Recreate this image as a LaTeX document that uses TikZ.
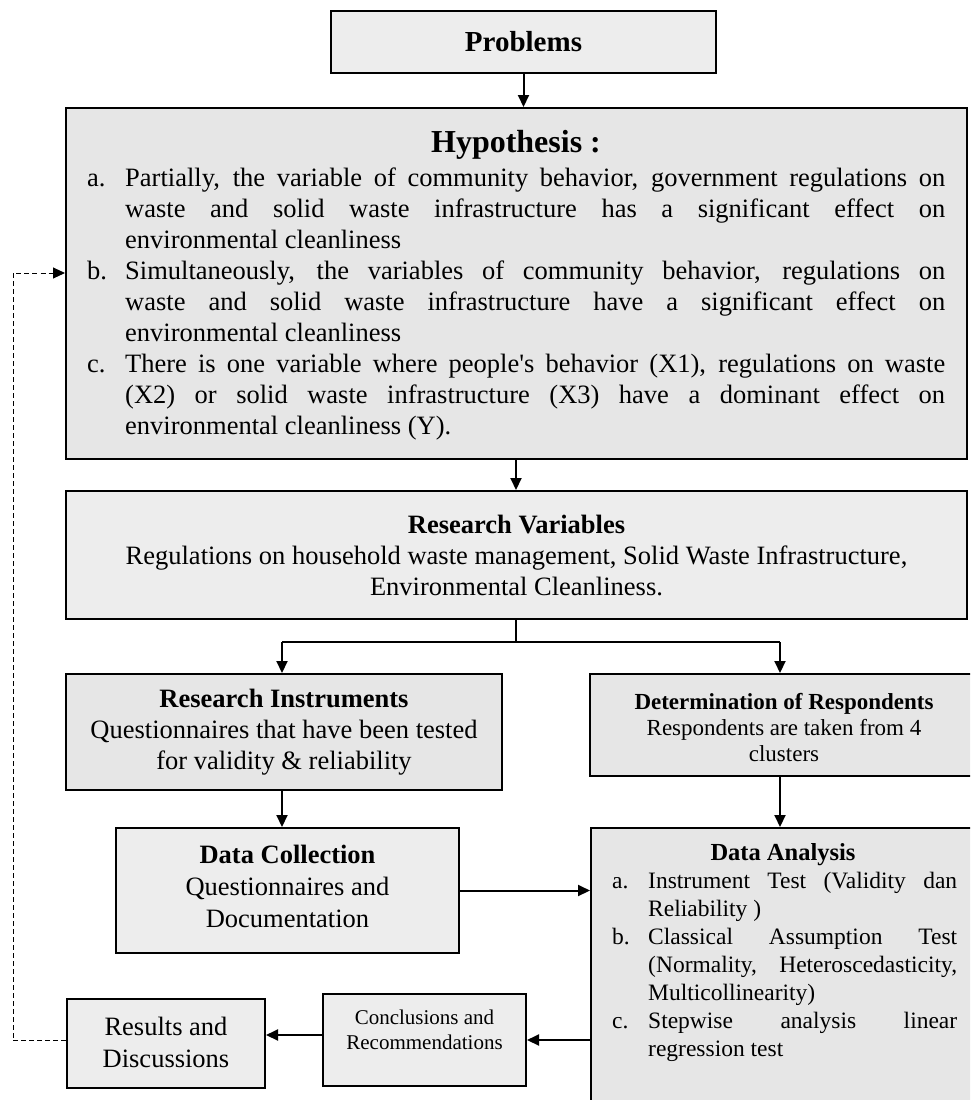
\documentclass[tikz,border=0pt]{standalone}
\usepackage{fontspec}
\setmainfont{Liberation Serif}
\usetikzlibrary{arrows.meta}
\definecolor{gA}{HTML}{EDEDED}
\definecolor{gB}{HTML}{E6E6E6}
\newcommand{\hitem}[3]{\hangindent=#1\hangafter=1\noindent\makebox[#1][l]{#2}#3\par}
\begin{document}
\begin{tikzpicture}[x=1pt,y=-1pt,
  box/.style={draw=black,line width=2pt,inner sep=0pt,anchor=north west},
  arr/.style={line width=2pt,-{Triangle[length=12pt,width=11pt]}},
  thinln/.style={line width=1.2pt},
  dasharr/.style={line width=1pt,dash pattern=on 5pt off 3pt,-{Triangle[length=12pt,width=11pt]}},
  body/.style={font=\fontsize{26.5}{31}\selectfont},
]
\useasboundingbox (0,0) rectangle (970,1100);
\fill[white] (0,0) rectangle (970,1100);
\clip (0,0) rectangle (970,1100);
\coordinate (axis) at (516,0);

% Problems
\node[box,fill=gA,minimum width=385pt,minimum height=62pt] (prob) at (330,10) {\fontsize{29}{32}\selectfont\bfseries Problems};

% Hypothesis
\node[box,fill=gB,line width=2.4pt,minimum width=901pt,minimum height=351pt] (hyp) at (65,107) {};
\node[font=\fontsize{32}{36}\selectfont\bfseries] (hyptitle) at (516,145) {Hypothesis :};
\node[anchor=north west,text width=858pt,inner sep=0pt,align=justify,body] (hyplist) at (87,168) {%
\hyphenpenalty=10000\exhyphenpenalty=10000
\hitem{38pt}{a.}{Partially, the variable of community behavior, government regulations on\linebreak waste and solid waste infrastructure has a significant effect on\linebreak environmental cleanliness}%
\hitem{38pt}{b.}{Simultaneously, the variables of community behavior, regulations on\linebreak waste and solid waste infrastructure have a significant effect on\linebreak environmental cleanliness}%
\hitem{38pt}{c.}{There is one variable where people\textquotesingle s behavior (X1), regulations on waste\linebreak (X2) or solid waste infrastructure (X3) have a dominant effect on\linebreak environmental cleanliness (Y).}};

% Research variables
\node[box,fill=gA,minimum width=901pt,minimum height=128pt] (rv) at (65,490) {};
\node[body,align=center] (rvtext) at (rv.center) {{\bfseries Research Variables}\\Regulations on household waste management, Solid Waste Infrastructure,\\Environmental Cleanliness.};

% Research instruments
\node[box,fill=gB,minimum width=436pt,minimum height=116pt] (ri) at (65,673) {};
\node[body,align=center] (ritext) at (ri.center) {{\bfseries Research Instruments}\\Questionnaires that have been tested\\for validity \& reliability};

% Determination of respondents (runs past the right edge)
\node[box,fill=gB,minimum width=388pt,minimum height=102pt] (dr) at (589,673) {};
\node[font=\fontsize{23}{26}\selectfont,align=center] (drtext) at ([yshift=-3pt]dr.center) {{\bfseries Determination of Respondents}\\Respondents are taken from 4\\clusters};

% Data collection
\node[box,fill=gA,minimum width=343pt,minimum height=125pt] (dc) at (115,827) {};
\node[font=\fontsize{26.5}{32}\selectfont,align=center] (dctext) at ([yshift=4pt]dc.center) {{\bfseries Data Collection}\\Questionnaires and\\Documentation};

% Data analysis (runs past the right and bottom edges)
\node[box,fill=gB,minimum width=388pt,minimum height=320pt] (da) at (590,827) {};
\node[font=\fontsize{24.5}{28}\selectfont\bfseries] (datitle) at (783,855) {Data Analysis};
\node[anchor=north west,text width=345pt,inner sep=0pt,align=justify,font=\fontsize{23.5}{28}\selectfont] (dalist) at (612,872) {%
\hyphenpenalty=10000\exhyphenpenalty=10000
\hitem{36pt}{a.}{Instrument Test (Validity dan\linebreak Reliability )}%
\hitem{36pt}{b.}{Classical Assumption Test\linebreak (Normality, Heteroscedasticity,\linebreak Multicollinearity)}%
\hitem{36pt}{c.}{Stepwise analysis linear\linebreak regression test}};

% Conclusions
\node[box,fill=gA,minimum width=203pt,minimum height=92pt] (conc) at (322,993) {};
\node[anchor=north,align=center,font=\fontsize{21}{25}\selectfont,inner sep=0pt] (conctext) at ([yshift=-17pt]conc.north) {Conclusions and\\Recommendations};

% Results
\node[box,fill=gA,minimum width=198pt,minimum height=89pt] (res) at (66,998) {};
\node[align=center,font=\fontsize{26.5}{32}\selectfont] (restext) at ([yshift=1pt]res.center) {Results and\\Discussions};

% Connectors
\draw[arr] (prob.south) -- (prob.south |- hyp.north);
\draw[arr] (hyp.south -| axis) -- (rv.north -| axis);
\coordinate (jm) at (516,642);
\coordinate (jl) at (282,642);
\coordinate (jr) at (780,642);
\draw[thinln] (rv.south -| axis) -- (jm);
\draw[thinln] (jl) -- (jr);
\draw[arr] (jl) -- (jl |- ri.north);
\draw[arr] (jr) -- (jr |- dr.north);
\draw[arr] (ri.south -| jl) -- (dc.north -| jl);
\draw[arr] (dr.south -| jr) -- (da.north -| jr);
\draw[arr] (dc.east) -- (dc.east -| da.west);
\draw[arr] (conc.east -| da.west) -- (conc.east);
\draw[arr] ([yshift=5pt]conc.west) -- ([yshift=5pt]conc.west -| res.east);
\coordinate (fb) at (13,273);
\draw[dasharr] ([yshift=3pt]res.west) -| (fb) -- (fb -| hyp.west);
\end{tikzpicture}
\end{document}
